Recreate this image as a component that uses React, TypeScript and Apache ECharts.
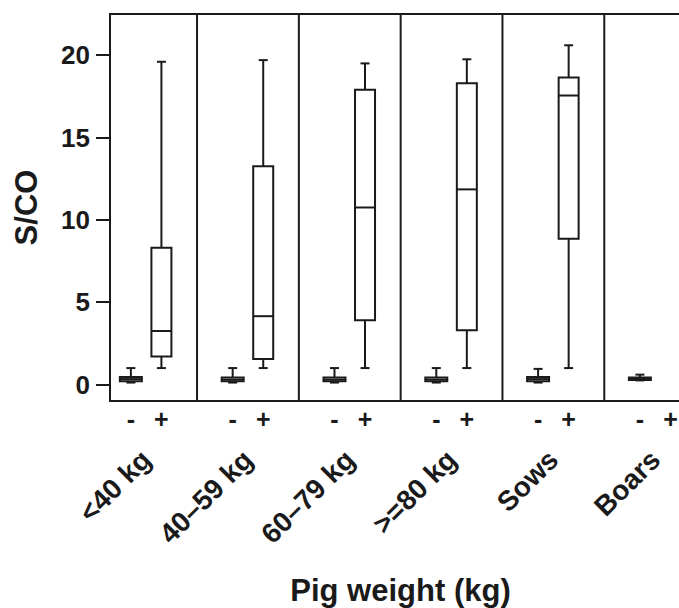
import React, { useEffect, useRef } from "react";
import * as echarts from "echarts";

// ---- data ----
const groups = ["<40 kg", "40–59 kg", "60–79 kg", ">=80 kg", "Sows", "Boars"];
const statusLabels = ["-", "+"];
const yTicks = [0, 5, 10, 15, 20];
// [min, Q1, median, Q3, max]
const negativeStats: number[][] = [
  [0.12, 0.2, 0.33, 0.45, 1.0],
  [0.12, 0.2, 0.3, 0.42, 1.0],
  [0.12, 0.2, 0.3, 0.42, 1.0],
  [0.12, 0.2, 0.3, 0.42, 1.0],
  [0.12, 0.2, 0.33, 0.45, 0.95],
  [0.25, 0.27, 0.35, 0.42, 0.6],
];
const positiveStats: (number[] | null)[] = [
  [1.0, 1.7, 3.25, 8.3, 19.6],
  [1.0, 1.55, 4.15, 13.25, 19.7],
  [1.0, 3.9, 10.75, 17.9, 19.5],
  [1.0, 3.3, 11.85, 18.3, 19.75],
  [1.0, 8.85, 17.55, 18.65, 20.6],
  null,
];
const dividers = [1, 2, 3, 4, 5];

const FONT = "'Liberation Sans', Arial, Helvetica, sans-serif";
const INK = "#1a1a1a";
const X_MIN = 0.145;
const X_MAX = 5.734;
const Y_MIN = -1;
const Y_MAX = 22.5;
const OFFSET = 0.15;

export default function App() {
  const ref = useRef<HTMLDivElement>(null);
  useEffect(() => {
    if (!ref.current) return;
    const chart = echarts.init(ref.current, undefined, { renderer: "svg" });

    const boxData: any[] = [];
    groups.forEach((_, i) => {
      const neg = negativeStats[i];
      if (neg) boxData.push([i + 0.5 - OFFSET, ...neg, 0]);
      const pos = positiveStats[i];
      if (pos) boxData.push([i + 0.5 + OFFSET, ...pos, 1]);
    });

    const statusPositions = groups.flatMap((_, i) => [i + 0.5 - OFFSET, i + 0.5 + OFFSET]);
    const groupPositions = groups.map((_, i) => i + 0.5);

    const line = (x1: number, y1: number, x2: number, y2: number, w = 2) => ({
      type: "line",
      shape: { x1, y1, x2, y2 },
      style: { stroke: INK, lineWidth: w },
    });

    const option: any = {
      animation: false,
      backgroundColor: "#fff",
      grid: { left: 110, right: 0, top: 14, bottom: 207, containLabel: false, outerBoundsMode: "none" },
      xAxis: [
        {
          type: "value",
          position: "bottom",
          min: X_MIN,
          max: X_MAX,
          axisLine: { show: true, onZero: false, lineStyle: { color: INK, width: 2 } },
          axisTick: { show: false },
          splitLine: { show: false },
          axisLabel: {
            customValues: statusPositions,
            margin: 5,
            fontSize: 25,
            fontWeight: "bold",
            fontFamily: FONT,
            color: INK,
            formatter: (v: number) => (v - Math.floor(v) < 0.5 ? statusLabels[0] : statusLabels[1]),
          },
        },
        {
          type: "value",
          position: "bottom",
          min: X_MIN,
          max: X_MAX,
          axisLine: { show: false, onZero: false },
          axisTick: { show: false },
          splitLine: { show: false },
          axisLabel: {
            customValues: groupPositions,
            rotate: 45,
            margin: 54,
            fontSize: 28,
            fontWeight: "bold",
            fontFamily: FONT,
            color: INK,
            formatter: (v: number) => groups[Math.floor(v)],
          },
          name: "Pig weight (kg)",
          nameLocation: "middle",
          nameGap: 174,
          nameTextStyle: {
            fontSize: 31,
            fontWeight: "bold",
            fontFamily: FONT,
            color: INK,
            padding: [0, 0, 0, 12],
          },
        },
        {
          type: "value",
          position: "top",
          min: X_MIN,
          max: X_MAX,
          axisLine: { show: true, onZero: false, lineStyle: { color: INK, width: 2 } },
          axisTick: { show: false },
          axisLabel: { show: false },
          splitLine: { show: false },
        },
      ],
      yAxis: {
        type: "value",
        min: Y_MIN,
        max: Y_MAX,
        axisLine: { show: true, onZero: false, lineStyle: { color: INK, width: 2 } },
        axisTick: { show: true, customValues: yTicks, length: 14, lineStyle: { color: INK, width: 2 } },
        splitLine: { show: false },
        axisLabel: {
          customValues: yTicks,
          margin: 20,
          fontSize: 26,
          fontWeight: "bold",
          fontFamily: FONT,
          color: INK,
        },
        name: "S/CO",
        nameLocation: "middle",
        nameGap: 68,
        nameTextStyle: { fontSize: 31, fontWeight: "bold", fontFamily: FONT, color: INK },
      },
      series: [
        {
          type: "custom",
          xAxisIndex: 0,
          data: dividers.map((d) => [d]),
          renderItem: (params: any, api: any) => {
            const x = api.value(0);
            const top = api.coord([x, Y_MAX]);
            const bot = api.coord([x, Y_MIN]);
            return line(top[0], top[1], bot[0], bot[1], 2);
          },
          silent: true,
        },
        {
          type: "custom",
          xAxisIndex: 0,
          data: boxData,
          encode: { x: 0, y: [1, 2, 3, 4, 5] },
          renderItem: (params: any, api: any) => {
            const x = api.value(0);
            const kind = api.value(6);
            const halfW = kind === 0 ? 11 : 10;
            const capHalf = 4.5;
            const pMin = api.coord([x, api.value(1)]);
            const pQ1 = api.coord([x, api.value(2)]);
            const pMed = api.coord([x, api.value(3)]);
            const pQ3 = api.coord([x, api.value(4)]);
            const pMax = api.coord([x, api.value(5)]);
            const cx = pMed[0];
            return {
              type: "group",
              children: [
                line(cx, pQ3[1], cx, pMax[1]),
                line(cx - capHalf, pMax[1], cx + capHalf, pMax[1]),
                line(cx, pQ1[1], cx, pMin[1]),
                line(cx - capHalf, pMin[1], cx + capHalf, pMin[1]),
                {
                  type: "rect",
                  shape: { x: cx - halfW, y: pQ3[1], width: halfW * 2, height: pQ1[1] - pQ3[1] },
                  style: { fill: "#fff", stroke: INK, lineWidth: 2 },
                },
                line(cx - halfW, pMed[1], cx + halfW, pMed[1]),
              ],
            };
          },
          silent: true,
        },
      ],
    };
    chart.setOption(option);
    return () => chart.dispose();
  }, []);
  return (
    <div
      ref={ref}
      style={{ position: "fixed", left: 0, top: 0, width: 679, height: 608, background: "#fff" }}
    />
  );
}
